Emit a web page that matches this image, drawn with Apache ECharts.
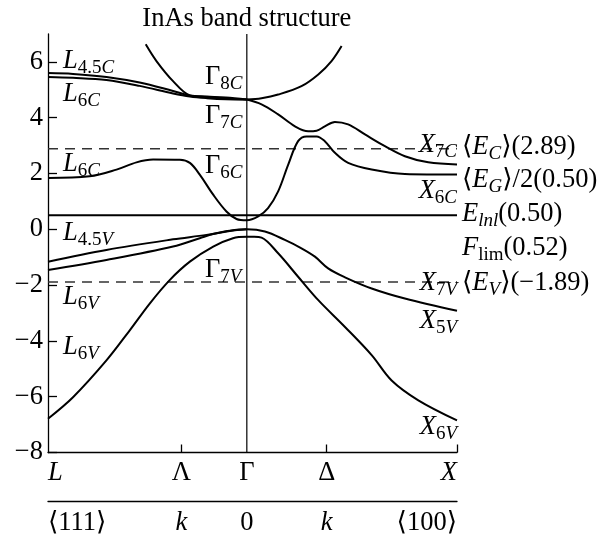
<!DOCTYPE html>
<html>
<head>
<meta charset="utf-8">
<script src="https://cdn.jsdelivr.net/npm/echarts@6/dist/echarts.min.js"></script>
<style>
  html, body { margin: 0; padding: 0; background: #fff; }
  #chart { width: 608px; height: 536px; }
</style>
</head>
<body>
<div id="chart"></div>
<script>
// Positions of the symmetry points along the k path (Γ at 0, X at 1)
const symPointK = [-0.946, -0.311, 0, 0.38, 1];
const symPointNames = ['L', 'Λ', 'Γ', 'Δ', 'X'];
const dirNames = ['⟨111⟩', 'k', '0', 'k', '⟨100⟩'];
const yTickValues = [-8, -6, -4, -2, 0, 2, 4, 6];

// Reference energy levels, eV
const meanEC = 2.89;
const meanEV = -1.89;
const eLnl = 0.50;

// Bands as [k, E] pairs, eV
const bandL45C = [[-0.946, 5.60], [-0.827, 5.57], [-0.668, 5.46], [-0.51, 5.26], [-0.351, 4.96], [-0.271, 4.80], [-0.19, 4.76], [-0.1, 4.72], [0, 4.65]];
const bandL6CUpper = [[-0.946, 5.46], [-0.827, 5.43], [-0.668, 5.35], [-0.51, 5.14], [-0.351, 4.87], [-0.271, 4.76], [-0.19, 4.70], [-0.1, 4.66], [0, 4.65]];
const bandG8CLeft = [[-0.481, 6.63], [-0.43, 6.03], [-0.351, 5.31], [-0.271, 4.80], [-0.19, 4.74], [-0.1, 4.69], [0, 4.65]];
const bandG8CRight = [[0, 4.65], [0.07, 4.70], [0.149, 4.83], [0.26, 5.13], [0.34, 5.55], [0.403, 6.03], [0.451, 6.57]];
const bandG7C = [[0, 4.65], [0.07, 4.48], [0.149, 4.12], [0.229, 3.69], [0.292, 3.51], [0.332, 3.53], [0.371, 3.69], [0.419, 3.85], [0.482, 3.76], [0.562, 3.40], [0.657, 2.98], [0.752, 2.62], [0.863, 2.40], [1, 2.32]];
const bandG6C = [[-0.946, 1.84], [-0.748, 1.90], [-0.62, 2.14], [-0.525, 2.40], [-0.446, 2.50], [-0.319, 2.49], [-0.271, 2.38], [-0.224, 1.96], [-0.16, 1.24], [-0.097, 0.64], [-0.049, 0.37], [0, 0.32], [0.054, 0.46], [0.101, 0.76], [0.149, 1.36], [0.197, 2.32], [0.244, 3.16], [0.284, 3.33], [0.332, 3.33], [0.371, 3.16], [0.419, 2.74], [0.482, 2.38], [0.594, 2.14], [0.752, 1.98], [1, 1.96]];
const bandVB1 = [[-0.946, -1.16], [-0.668, -0.74], [-0.351, -0.36], [-0.192, -0.20], [-0.081, -0.05], [0, 0], [0.086, -0.08], [0.181, -0.38], [0.26, -0.68], [0.324, -0.98], [0.387, -1.40], [0.467, -1.72], [0.594, -2.12], [0.752, -2.48], [1, -2.92]];
const bandVB2 = [[-0.946, -1.46], [-0.668, -1.10], [-0.351, -0.62], [-0.224, -0.32], [-0.16, -0.17], [-0.081, -0.06], [0, 0]];
const bandSO = [[-0.946, -6.79], [-0.827, -6.02], [-0.668, -4.70], [-0.557, -3.62], [-0.462, -2.66], [-0.367, -1.82], [-0.271, -1.16], [-0.16, -0.62], [-0.066, -0.32], [0, -0.27], [0.035, -0.27], [0.07, -0.30], [0.149, -0.86], [0.244, -1.70], [0.34, -2.54], [0.467, -3.50], [0.594, -4.51], [0.689, -5.42], [0.816, -6.13], [1, -6.85]];

const bands = [bandL45C, bandL6CUpper, bandG8CLeft, bandG8CRight, bandG7C, bandG6C, bandVB1, bandVB2, bandSO];

const FONT = '"Liberation Serif", "DejaVu Serif", serif';
const FS = 26.5;
const SUB = 19;

const chart = echarts.init(document.getElementById('chart'), null, { renderer: 'canvas' });

const kMin = symPointK[0];
const kMax = symPointK[symPointK.length - 1];

function pointIndex(v) {
  return symPointK.findIndex(k => Math.abs(k - v) < 1e-6);
}

const axisRich = {
  i: { fontFamily: FONT, fontSize: FS, fontStyle: 'italic', color: '#000' },
  r: { fontFamily: FONT, fontSize: FS, color: '#000' }
};

const bandSeries = bands.map(b => ({
  type: 'line',
  data: b,
  showSymbol: false,
  smooth: 0.35,
  silent: true,
  lineStyle: { color: '#000', width: 2 },
  z: 4
}));

function levelSeries(e, dashed) {
  return {
    type: 'line',
    data: [[kMin, e], [kMax, e]],
    showSymbol: false,
    silent: true,
    lineStyle: dashed ? { color: '#333', width: 1.5, type: [10, 7] } : { color: '#000', width: 2 },
    z: 3
  };
}

chart.setOption({
  animation: false,
  backgroundColor: '#fff',
  grid: { left: 48, right: 151, top: 34, bottom: 83.5, containLabel: false, outerBoundsMode: 'none' },
  xAxis: [
    {
      type: 'value', min: kMin, max: kMax, position: 'bottom',
      axisLine: { show: true, onZero: false, lineStyle: { color: '#000', width: 1.3 } },
      axisTick: { show: true, inside: true, length: 8, customValues: [symPointK[1], symPointK[3], symPointK[4]], lineStyle: { color: '#000', width: 1.3 } },
      splitLine: { show: false },
      axisLabel: {
        customValues: symPointK, margin: 7,
        alignMinLabel: 'left', alignMaxLabel: 'right',
        formatter: v => {
          const n = symPointNames[pointIndex(v)];
          return (n === 'L' || n === 'X') ? '{i|' + n + '}' : '{r|' + n + '}';
        },
        rich: axisRich
      }
    },
    {
      type: 'value', min: kMin, max: kMax, position: 'bottom', offset: 49,
      axisLine: { show: true, onZero: false, lineStyle: { color: '#000', width: 1.3 } },
      axisTick: { show: false },
      splitLine: { show: false },
      axisLabel: {
        customValues: symPointK, margin: 8,
        alignMinLabel: 'left', alignMaxLabel: 'right',
        formatter: v => {
          const n = dirNames[pointIndex(v)];
          return n === 'k' ? '{i|k}' : '{r|' + n + '}';
        },
        rich: axisRich
      }
    }
  ],
  yAxis: {
    type: 'value', min: -8, max: 7, interval: 2,
    axisLine: { show: true, onZero: false, lineStyle: { color: '#000', width: 1.3 } },
    axisTick: { show: true, inside: true, length: 9, customValues: yTickValues, lineStyle: { color: '#000', width: 1.3 } },
    splitLine: { show: false },
    axisLabel: {
      customValues: yTickValues, margin: 5,
      fontFamily: FONT, fontSize: FS, color: '#000',
      formatter: v => String(v).replace('-', '\u2212')
    }
  },
  series: [
    // vertical line through Γ
    {
      type: 'line', data: [[symPointK[2], -8], [symPointK[2], 7]], showSymbol: false, silent: true,
      lineStyle: { color: '#000', width: 1.2 }, z: 2
    },
    levelSeries(meanEC, true),
    levelSeries(meanEV, true),
    levelSeries(eLnl, false),
    ...bandSeries
  ]
});

// Text annotations: band labels and level legends
const richText = {
  r: { fontFamily: FONT, fontSize: FS, fill: '#000', verticalAlign: 'top' },
  i: { fontFamily: FONT, fontSize: FS, fontStyle: 'italic', fill: '#000', verticalAlign: 'top' },
  s: { fontFamily: FONT, fontSize: SUB, fill: '#000', verticalAlign: 'top', padding: [11, 0, 0, 0] },
  si: { fontFamily: FONT, fontSize: SUB, fontStyle: 'italic', fill: '#000', verticalAlign: 'top', padding: [11, 0, 0, 0] }
};

const annotations = [
  { x: 63, y: 61, align: 'left', t: '{i|L}{s|4.5}{si|C}' },
  { x: 63, y: 94, align: 'left', t: '{i|L}{s|6}{si|C}' },
  { x: 63, y: 164, align: 'left', t: '{i|L}{s|6}{si|C}' },
  { x: 63, y: 233, align: 'left', t: '{i|L}{s|4.5}{si|V}' },
  { x: 63, y: 297, align: 'left', t: '{i|L}{s|6}{si|V}' },
  { x: 63, y: 347, align: 'left', t: '{i|L}{s|6}{si|V}' },
  { x: 205, y: 77, align: 'left', t: '{r|Γ}{s|8}{si|C}' },
  { x: 205, y: 116, align: 'left', t: '{r|Γ}{s|7}{si|C}' },
  { x: 205, y: 166, align: 'left', t: '{r|Γ}{s|6}{si|C}' },
  { x: 205, y: 270, align: 'left', t: '{r|Γ}{s|7}{si|V}' },
  { x: 457, y: 145, align: 'right', t: '{i|X}{s|7}{si|C}' },
  { x: 457, y: 191, align: 'right', t: '{i|X}{s|6}{si|C}' },
  { x: 457, y: 283, align: 'right', t: '{i|X}{s|7}{si|V}' },
  { x: 457, y: 321, align: 'right', t: '{i|X}{s|5}{si|V}' },
  { x: 457, y: 427, align: 'right', t: '{i|X}{s|6}{si|V}' },
  { x: 462, y: 147, align: 'left', t: '{r|⟨}{i|E}{si|C}{r|⟩(2.89)}' },
  { x: 462, y: 180, align: 'left', t: '{r|⟨}{i|E}{si|G}{r|⟩/2(0.50)}' },
  { x: 462, y: 214, align: 'left', t: '{i|E}{si|lnl}{r|(0.50)}' },
  { x: 462, y: 248, align: 'left', t: '{i|F}{s|lim}{r|(0.52)}' },
  { x: 462, y: 283, align: 'left', t: '{r|⟨}{i|E}{si|V}{r|⟩(−1.89)}' }
];

const graphics = annotations.map(a => ({
  type: 'text',
  x: a.x,
  y: a.y - FS / 2,
  silent: true,
  z: 10,
  style: {
    text: a.t,
    align: a.align,
    verticalAlign: 'top',
    fill: '#000',
    fontFamily: FONT,
    fontSize: FS,
    rich: richText
  }
}));

// Title, centred over Γ
const gammaX = chart.convertToPixel({ xAxisIndex: 0 }, symPointK[2]);
graphics.push({
  type: 'text',
  x: gammaX,
  y: 19,
  silent: true,
  style: {
    text: 'InAs band structure',
    align: 'center',
    verticalAlign: 'middle',
    fill: '#000',
    fontFamily: FONT,
    fontSize: FS
  }
});

chart.setOption({ graphic: graphics });
</script>
</body>
</html>
